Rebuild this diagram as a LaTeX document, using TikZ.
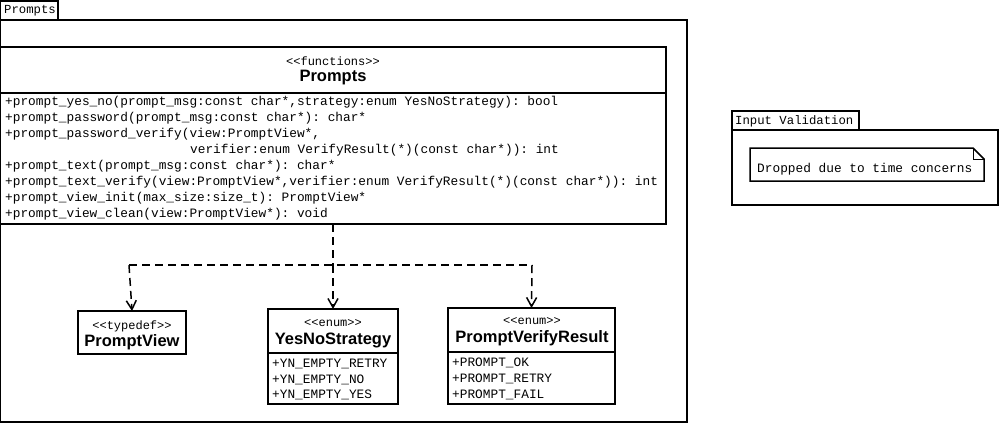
\documentclass[tikz,border=0pt]{standalone}
\usepackage{fontspec}
\setmonofont{Liberation Mono}
\setsansfont{Liberation Sans}
\usetikzlibrary{arrows.meta}
\begin{document}
\begin{tikzpicture}[x=1pt,y=-1pt,
  box/.style={draw,line width=1.5pt,anchor=north west,inner sep=0pt,outer sep=0pt},
  mono/.style={font=\ttfamily\fontsize{12.8}{14}\selectfont,inner sep=0pt,anchor=west},
  stereo/.style={font=\ttfamily\fontsize{12}{14}\selectfont,inner sep=0pt},
  cname/.style={font=\sffamily\bfseries\fontsize{16.5}{18}\selectfont,inner sep=0pt},
  dep/.style={line width=1.5pt,dash pattern=on 8pt off 5pt},
  deparrow/.style={dep,-{Straight Barb[length=9pt,width=10pt,line width=1.5pt]}}]
\useasboundingbox (0,0) rectangle (1000,424);
% Package Prompts
\node[box,minimum width=58pt,minimum height=19pt] (pkgtab) at (0,1) {};
\node[mono,font=\ttfamily\fontsize{12.3}{14}\selectfont] (pkgtabtext) at (4,11) {Prompts};
\node[box,minimum width=687pt,minimum height=402pt] (pkg) at (0,20) {};
% Prompts class
\node[box,minimum width=666pt,minimum height=177pt] (prompts) at (0,47) {};
\draw[line width=1.5pt] (0,93) -- (666,93);
\node[stereo] (promptsst) at (333,61) {<{}<functions>{}>};
\node[cname] (promptsname) at (333,78) {Prompts};
\node[mono] (m1) at (5,102) {+prompt\_yes\_no(prompt\_msg:const char*,strategy:enum YesNoStrategy): bool};
\node[mono] (m2) at (5,118) {+prompt\_password(prompt\_msg:const char*): char*};
\node[mono] (m3) at (5,134) {+prompt\_password\_verify(view:PromptView*,};
\node[mono] (m4) at (190,150) {verifier:enum VerifyResult(*)(const char*)): int};
\node[mono] (m5) at (5,166) {+prompt\_text(prompt\_msg:const char*): char*};
\node[mono] (m6) at (5,182) {+prompt\_text\_verify(view:PromptView*,verifier:enum VerifyResult(*)(const char*)): int};
\node[mono] (m7) at (5,198) {+prompt\_view\_init(max\_size:size\_t): PromptView*};
\node[mono] (m8) at (5,214) {+prompt\_view\_clean(view:PromptView*): void};
% PromptView
\node[box,minimum width=108pt,minimum height=43pt] (pv) at (78,311) {};
\node[stereo] (pvst) at (132,326) {<{}<typedef>{}>};
\node[cname] (pvname) at (132,342) {PromptView};
% YesNoStrategy
\node[box,minimum width=130pt,minimum height=95pt] (yn) at (268,309) {};
\draw[line width=1.5pt] (268,353) -- (398,353);
\node[stereo] (ynst) at (333,323) {<{}<enum>{}>};
\node[cname] (ynname) at (333,340) {YesNoStrategy};
\node[mono] (yn1) at (272,364) {+YN\_EMPTY\_RETRY};
\node[mono] (yn2) at (272,380) {+YN\_EMPTY\_NO};
\node[mono] (yn3) at (272,395) {+YN\_EMPTY\_YES};
% PromptVerifyResult
\node[box,minimum width=167pt,minimum height=96pt] (pvr) at (448,308) {};
\draw[line width=1.5pt] (448,352) -- (615,352);
\node[stereo] (pvrst) at (532,321) {<{}<enum>{}>};
\node[cname] (pvrname) at (532,338) {PromptVerifyResult};
\node[mono] (pvr1) at (452,363) {+PROMPT\_OK};
\node[mono] (pvr2) at (452,379) {+PROMPT\_RETRY};
\node[mono] (pvr3) at (452,395) {+PROMPT\_FAIL};
% connectors
\coordinate (j) at (333,265);
\coordinate (jl) at (129,265);
\coordinate (jr) at (532,265);
\draw[dep] (prompts.south) -- (j);
\draw[dep] (jl) -- (jr);
\draw[deparrow] (jl) -- (pv.north);
\draw[deparrow] (j) -- (yn.north);
\draw[deparrow] (jr) -- (pvr.north);
% Input Validation package
\node[box,minimum width=127pt,minimum height=19pt] (ivtab) at (732,111) {};
\node[mono,font=\ttfamily\fontsize{12.3}{14}\selectfont] (ivtabtext) at (735,121) {Input Validation};
\node[box,minimum width=266pt,minimum height=75pt] (iv) at (732,130) {};
\draw[line width=1.5pt] (750,148) -- (973,148) -- (984,159) -- (984,181) -- (750,181) -- cycle;
\draw[line width=1pt] (973,148) -- (973,159) -- (984,159);
\node[mono] (note) at (757,169) {Dropped due to time concerns};
\end{tikzpicture}
\end{document}
